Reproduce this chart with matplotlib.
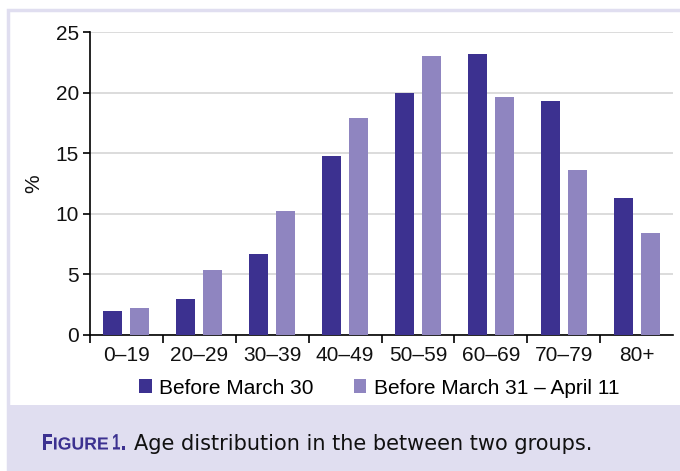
import matplotlib
matplotlib.use("Agg")
import matplotlib.pyplot as plt
from matplotlib.patches import Rectangle, PathPatch
from matplotlib.textpath import TextPath
from matplotlib.font_manager import FontProperties
from matplotlib.transforms import Affine2D
import numpy as np

categories = ["0–19", "20–29", "30–39", "40–49", "50–59", "60–69", "70–79", "80+"]
before_mar30 = [2.0, 3.0, 6.7, 14.8, 20.0, 23.2, 19.3, 11.3]
mar31_apr11 = [2.2, 5.4, 10.2, 17.9, 23.0, 19.6, 13.6, 8.4]
series_names = ["Before March 30", "Before March 31 – April 11"]
yticks = [0, 5, 10, 15, 20, 25]
caption_label = ["F", "IGURE", "1", "."]
caption_text = "Age distribution in the between two groups."

DARK = "#3c3190"
LIGHT = "#8f85c0"
LAV = "#e0def0"
FONT = ["Liberation Sans", "DejaVu Sans"]
plt.rcParams["font.family"] = FONT

W, H = 680, 471
fig = plt.figure(figsize=(W / 100, H / 100), dpi=100)

# frame and caption band
fig.patches.append(Rectangle((8 / W, -0.1), 1, 1.1 - 10 / H, transform=fig.transFigure,
                             facecolor="white", edgecolor=LAV, linewidth=2.5, zorder=-2))
fig.patches.append(Rectangle((8 / W, 0), 1, (471 - 405) / H, transform=fig.transFigure,
                             facecolor=LAV, edgecolor="none", zorder=-1))

ax_l, ax_r, ax_t, ax_b = 90, 673, 32, 335
ax = fig.add_axes([ax_l / W, 1 - ax_b / H, (ax_r - ax_l) / W, (ax_b - ax_t) / H])
ax.patch.set_alpha(0)
x = np.arange(len(categories))
bw = 0.26
off = 0.185
ax.bar(x - off, before_mar30, bw, color=DARK, label=series_names[0], zorder=3)
ax.bar(x + off, mar31_apr11, bw, color=LIGHT, label=series_names[1], zorder=3)

ax.set_xlim(-0.5, len(categories) - 0.5)
ax.set_ylim(0, 25)
ax.set_yticks(yticks)
ax.yaxis.grid(True, color="#d6d6d6", linewidth=1.2, zorder=0)
ax.set_axisbelow(True)
for s in ["top", "right"]:
    ax.spines[s].set_visible(False)
ax.spines["left"].set_linewidth(1.2)
ax.spines["bottom"].set_linewidth(1.2)

ax.set_xticks(np.arange(-0.5, len(categories) - 1, 1.0))
ax.set_xticklabels([])
ax.set_xticks(x, minor=True)
ax.set_xticklabels(categories, minor=True)
ax.tick_params(axis="x", which="major", length=6, width=1.2, direction="out")
ax.tick_params(axis="x", which="minor", length=0, labelsize=15, pad=8, labelcolor="#111111")
ax.tick_params(axis="y", length=5, width=1.2, labelsize=15, pad=3, labelcolor="#111111")

ax.set_ylabel("%", fontsize=15, labelpad=9, color="#111111")

ax.legend(loc="center left",
          bbox_to_anchor=((139 - ax_l) / (ax_r - ax_l), 1 - (388 - ax_t) / (ax_b - ax_t)),
          ncol=2, frameon=False, fontsize=15, handlelength=0.62, handleheight=0.62,
          handletextpad=0.34, columnspacing=1.92, borderaxespad=0, borderpad=0)

# caption: small-caps, condensed "FIGURE 1."
base_y = H - 449.5
fp = FontProperties(family="Liberation Sans", weight="bold")
pieces = [  # (text, left px, right px, font px size)
    (caption_label[0], 43, 52, 22.4),
    (caption_label[1], 54, 108, 17.5),
    (caption_label[2], 113, 120, 22.4),
    (caption_label[3], 122, 125, 22.4),
]
for s, x0, x1, size in pieces:
    tp = TextPath((0, 0), s, size=size, prop=fp)
    ext = tp.get_extents()
    sx = (x1 - x0) / (ext.x1 - ext.x0)
    tr = Affine2D().translate(-ext.x0, 0).scale(sx, 1.0).translate(x0, base_y)
    fig.patches.append(PathPatch(tp, transform=tr, facecolor=DARK, edgecolor="none",
                                 zorder=5))

fig.text(134 / W, base_y / H, caption_text, fontsize=15, color="#111111",
         va="baseline", family="DejaVu Sans")

fig.savefig("out.png", dpi=100)
